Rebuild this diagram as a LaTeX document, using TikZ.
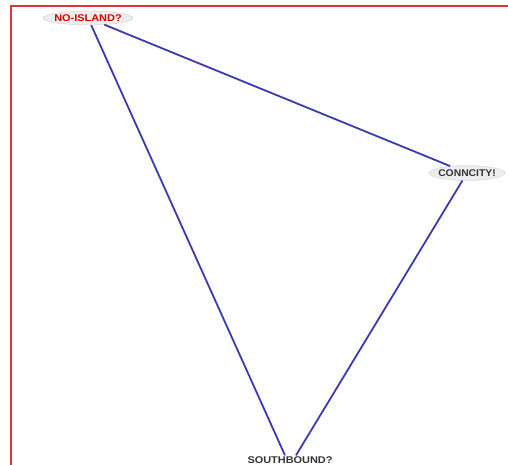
\documentclass[tikz,border=0pt]{standalone}
\usepackage{fontspec}
\setmainfont{Liberation Sans}
\usetikzlibrary{shapes.geometric}
\definecolor{edgeblue}{HTML}{3A3AB0}
\definecolor{nodefill}{HTML}{EDEDED}
\definecolor{framered}{HTML}{E8303A}
\tikzset{
  lbl/.style={ellipse, fill=nodefill, draw=gray!40, line width=0.3pt, inner sep=-2pt, font=\bfseries\fontsize{11.5}{12}\selectfont},
  plain/.style={inner sep=1pt, font=\bfseries\fontsize{11.5}{12}\selectfont},
  link/.style={draw=edgeblue, line width=1.8pt}
}
\begin{document}
\begin{tikzpicture}[x=1pt,y=-1pt]
\useasboundingbox (0,0) rectangle (508,465);
\draw[framered, line width=1.8pt] (11,470) -- (11,6) -- (515,6);
\node[lbl, text=red!85!black, minimum width=86pt, minimum height=14pt] (ni) at (88,18) {\scalebox{0.95}[0.85]{NO-ISLAND?}};
\node[lbl, text=black!80, minimum width=76pt, minimum height=15pt] (cc) at (467,173) {\scalebox{0.9}[0.85]{CONNCITY!}};
\node[plain, text=black!80] (sb) at (290,460) {\scalebox{0.95}[0.85]{SOUTHBOUND?}};
\draw[link] (ni) -- ([xshift=-5pt]sb.north);
\draw[link] (ni) -- (cc);
\draw[link] (cc) -- ([xshift=6pt]sb.north);
\end{tikzpicture}
\end{document}
